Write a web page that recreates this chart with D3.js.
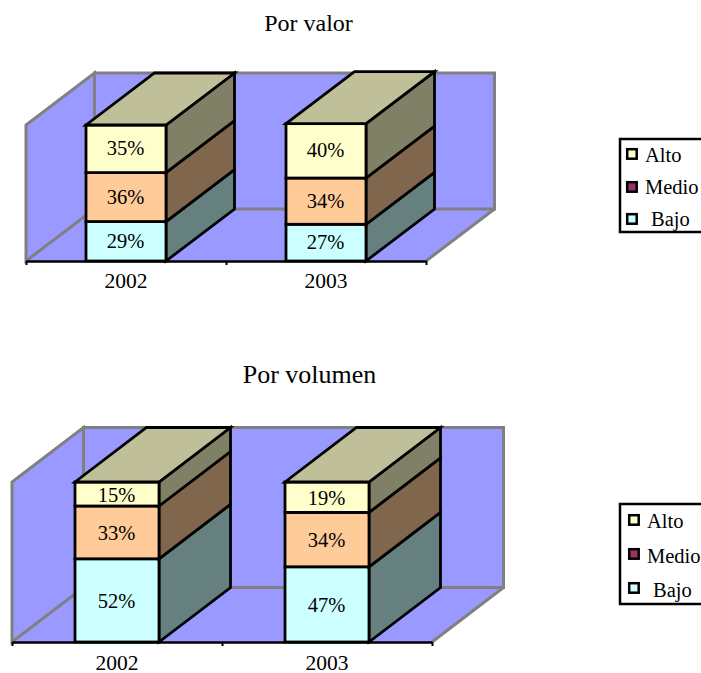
<!DOCTYPE html>
<html>
<head>
<meta charset="utf-8">
<script src="https://cdn.jsdelivr.net/npm/d3@7"></script>
<style>
  html, body { margin: 0; padding: 0; background: #fff; overflow: hidden; }
  svg { display: block; }
  text { font-family: "Liberation Serif", "Times New Roman", serif; fill: #000; }
</style>
</head>
<body>
<svg id="chart" width="701" height="673"></svg>
<script>
// Category labels and series names
const years = ["2002", "2003"];
const seriesNames = ["Bajo", "Medio", "Alto"];
const legendNames = ["Alto", "Medio", "Bajo"];

// Percent shares per year, stacked from the floor up
const valorBajo = [29, 27];
const valorMedio = [36, 34];
const valorAlto = [35, 40];
const volumenBajo = [52, 47];
const volumenMedio = [33, 34];
const volumenAlto = [15, 19];

// Face colours for each series
const frontColors = { Bajo: "#CCFFFF", Medio: "#FFCC99", Alto: "#FFFFCC" };
const sideColors = { Bajo: "#668080", Medio: "#80664D", Alto: "#808066" };
const topColor = "#BFBF99";
const legendColors = { Alto: "#FFFFCC", Medio: "#993366", Bajo: "#CCFFFF" };

const panels = [
  {
    title: "Por valor", titleX: 308.5, titleY: 31, titleSize: 24,
    rows: { Bajo: valorBajo, Medio: valorMedio, Alto: valorAlto },
    left: 26, right: 426, floor: 261, ceil: 125, dx: 68.5, dy: 52, padding: 0.3,
    labelY: 288, valueOffset: 6.5,
    legend: { x: 620, y: 139, h: 93, swatchX: 626, textX: 645, swatchY: [148, 181, 213], textY: [162, 194, 226], bajoShift: 6 }
  },
  {
    title: "Por volumen", titleX: 309.5, titleY: 383, titleSize: 26,
    rows: { Bajo: volumenBajo, Medio: volumenMedio, Alto: volumenAlto },
    left: 12, right: 432, floor: 642, ceil: 482, dx: 71.5, dy: 54.5, padding: 0.3,
    labelY: 670, valueOffset: 7.5,
    legend: { x: 620, y: 504, h: 100, swatchX: 628, textX: 647, swatchY: [514, 548, 582], textY: [528, 563, 597], bajoShift: 6 }
  }
];

const svg = d3.select("#chart");
const pointsAttr = pts => pts.map(p => p.join(",")).join(" ");

panels.forEach(p => {
  const g = svg.append("g");
  const band = d3.scaleBand().domain(years).range([p.left, p.right]);
  const barW = band.bandwidth() * (1 - 2 * p.padding);
  const barX = yr => band(yr) + band.bandwidth() * p.padding;
  const y = d3.scaleLinear().domain([0, 100]).range([p.floor, p.ceil]);

  // Walls and floor of the 3D box
  const wall = "#9999FF", edge = "#808080", edgeW = 3;
  const yTop = y(100), yBot = y(0);
  const shift = ([a, b]) => [a + p.dx, b - p.dy];
  g.append("polygon").attr("points", pointsAttr([[p.left, yBot], [p.right, yBot], shift([p.right, yBot]), shift([p.left, yBot])]))
    .attr("fill", wall);
  g.append("polygon").attr("points", pointsAttr([[p.left, yBot], [p.left, yTop], shift([p.left, yTop]), shift([p.left, yBot])]))
    .attr("fill", wall).attr("stroke", edge).attr("stroke-width", edgeW);
  g.append("polygon").attr("points", pointsAttr([shift([p.left, yBot]), shift([p.left, yTop]), shift([p.right, yTop]), shift([p.right, yBot])]))
    .attr("fill", wall).attr("stroke", edge).attr("stroke-width", edgeW);
  g.append("line")
    .attr("x1", p.right).attr("y1", yBot)
    .attr("x2", p.right + p.dx).attr("y2", yBot - p.dy)
    .attr("stroke", edge).attr("stroke-width", edgeW);

  // Axis line, boundary ticks and year labels
  const tickScale = d3.scaleLinear().domain([0, years.length]).range([p.left, p.right]);
  const axisG = g.append("g").attr("transform", `translate(0,${p.floor})`);
  axisG.call(d3.axisBottom(tickScale).tickValues(d3.range(years.length + 1)).tickSize(4).tickSizeOuter(0).tickFormat(""));
  axisG.selectAll(".domain").attr("stroke", "#000").attr("stroke-width", 2.5);
  axisG.selectAll(".tick line").attr("stroke", "#000").attr("stroke-width", 2);
  g.selectAll("text.year").data(years).join("text").attr("class", "year")
    .attr("x", d => band(d) + band.bandwidth() / 2)
    .attr("y", p.labelY).attr("text-anchor", "middle").attr("font-size", 21.5).text(d => d);

  // Stacked blocks: front face, side face, top cap and percent label
  const stack = d3.stack().keys(seriesNames).value((row, k) => row[k]);
  const table = years.map((yr, i) => ({
    year: yr, Bajo: p.rows.Bajo[i], Medio: p.rows.Medio[i], Alto: p.rows.Alto[i]
  }));
  const layers = stack(table);
  const line = { stroke: "#000", "stroke-width": 2.8, "stroke-linejoin": "miter" };
  const style = sel => Object.entries(line).forEach(([k, v]) => sel.attr(k, v));

  years.forEach((yr, i) => {
    const x0 = barX(yr), x1 = x0 + barW;
    layers.forEach(layer => {
      const name = layer.key, [v0, v1] = layer[i];
      const lo = y(v0), hi = y(v1);
      g.append("polygon").attr("points", pointsAttr([[x1, lo], [x1, hi], shift([x1, hi]), shift([x1, lo])]))
        .attr("fill", sideColors[name]).call(style);
      g.append("rect").attr("x", x0).attr("y", hi).attr("width", barW).attr("height", lo - hi)
        .attr("fill", frontColors[name]).call(style);
      if (name === "Alto") {
        g.append("polygon").attr("points", pointsAttr([[x0, hi], [x1, hi], shift([x1, hi]), shift([x0, hi])]))
          .attr("fill", topColor).call(style);
      }
      g.append("text").attr("x", (x0 + x1) / 2 - 0.5).attr("y", (lo + hi) / 2 + p.valueOffset)
        .attr("text-anchor", "middle").attr("font-size", 20.5).text(`${v1 - v0}%`);
    });
  });

  // Chart title
  g.append("text").attr("x", p.titleX).attr("y", p.titleY).attr("text-anchor", "middle")
    .attr("font-size", p.titleSize).text(p.title);

  // Legend box, running past the page's right edge
  const L = p.legend;
  g.append("rect").attr("x", L.x).attr("y", L.y).attr("width", 100).attr("height", L.h)
    .attr("fill", "#fff").attr("stroke", "#000").attr("stroke-width", 2.5);
  legendNames.forEach((name, i) => {
    g.append("rect").attr("x", L.swatchX + 1.2).attr("y", L.swatchY[i] + 1.2).attr("width", 9.5).attr("height", 9.5)
      .attr("fill", legendColors[name]).attr("stroke", "#000").attr("stroke-width", 2.5);
    g.append("text").attr("x", L.textX + (name === "Bajo" ? L.bajoShift : 0)).attr("y", L.textY[i])
      .attr("font-size", 20.5).text(name);
  });
});
</script>
</body>
</html>
